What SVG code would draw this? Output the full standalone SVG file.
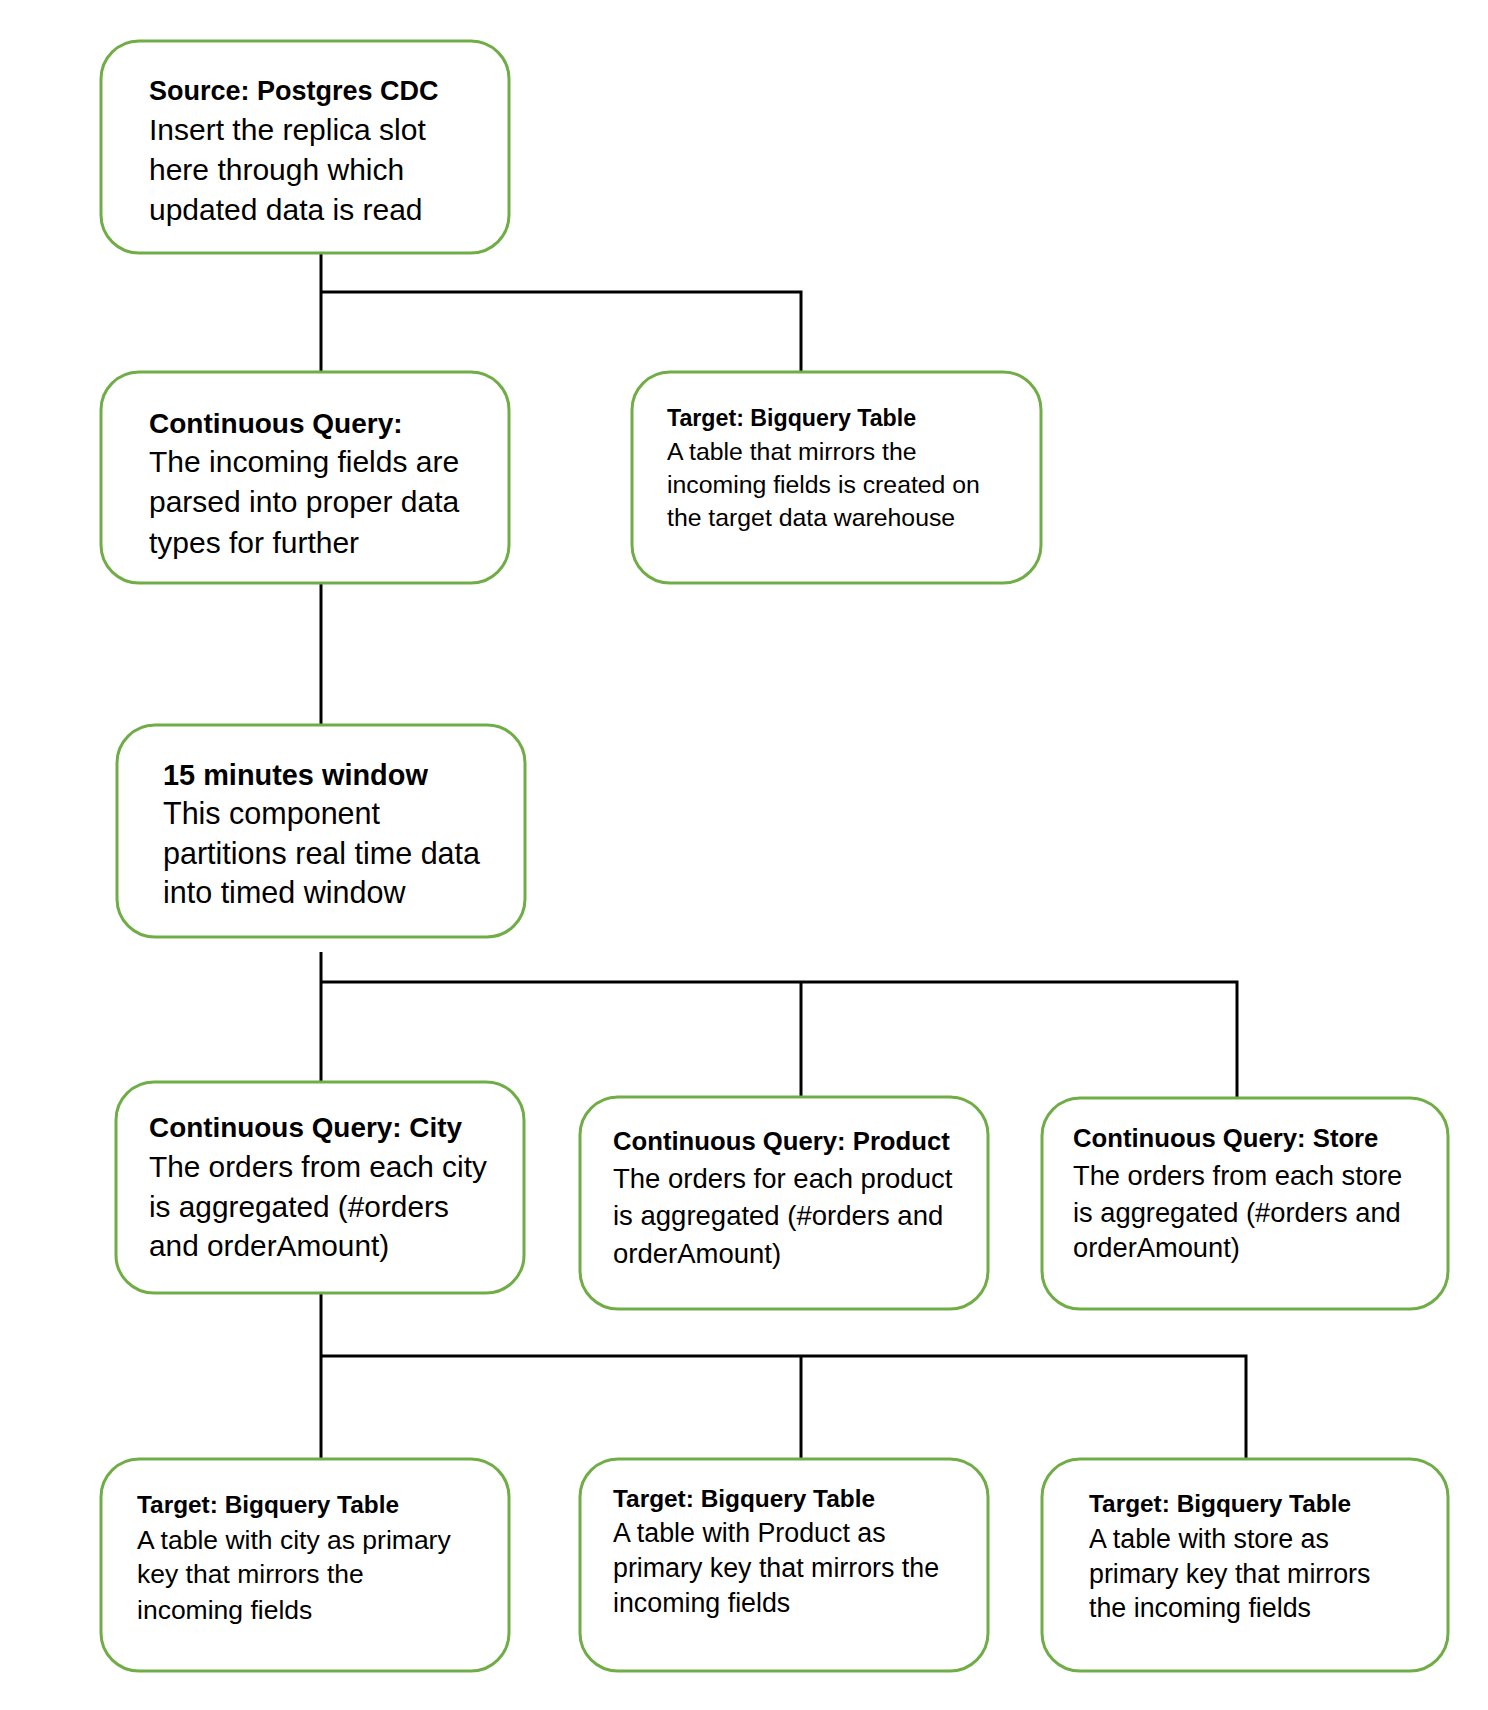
<svg xmlns="http://www.w3.org/2000/svg" width="1488" height="1710" viewBox="0 0 1488 1710">
<style>
  .box { fill: #ffffff; stroke: #70AD47; stroke-width: 3; }
  .conn { fill: none; stroke: #000000; stroke-width: 3; }
  text { font-family: "Liberation Sans", Arial, sans-serif; fill: #000000; }
  .b { font-weight: bold; }
</style>
<rect width="1488" height="1710" fill="#ffffff"/>
<g id="connectors">
  <path class="conn" d="M321 253 V372 M321 292 H801 V372"/>
  <path class="conn" d="M321 583 V725"/>
  <path class="conn" d="M321 952 V1082 M321 982 H1237 V1098 M801 982 V1097"/>
  <path class="conn" d="M321 1293 V1459 M321 1356 H1246 V1459 M801 1356 V1459"/>
</g>
<g id="source">
  <rect class="box" x="101" y="41" width="408" height="212" rx="38"/>
  <text class="b" x="149" y="100" font-size="27">Source: Postgres CDC</text>
  <text x="149" y="140" font-size="30">Insert the replica slot</text>
  <text x="149" y="180" font-size="30">here through which</text>
  <text x="149" y="220" font-size="30">updated data is read</text>
</g>
<g id="cq-parse">
  <rect class="box" x="101" y="372" width="408" height="211" rx="38"/>
  <text class="b" x="149" y="433" font-size="28">Continuous Query:</text>
  <text x="149" y="472" font-size="30">The incoming fields are</text>
  <text x="149" y="512" font-size="30">parsed into proper data</text>
  <text x="149" y="553" font-size="30">types for further</text>
</g>
<g id="target-top">
  <rect class="box" x="632" y="372" width="409" height="211" rx="38"/>
  <text class="b" x="667" y="426" font-size="23.2">Target: Bigquery Table</text>
  <text x="667" y="460" font-size="24.8">A table that mirrors the</text>
  <text x="667" y="493" font-size="24.8">incoming fields is created on</text>
  <text x="667" y="526" font-size="24.8">the target data warehouse</text>
</g>
<g id="window">
  <rect class="box" x="117" y="725" width="408" height="212" rx="38"/>
  <text class="b" x="163" y="785" font-size="28.9">15 minutes window</text>
  <text x="163" y="824" font-size="30.5">This component</text>
  <text x="163" y="864" font-size="30.5">partitions real time data</text>
  <text x="163" y="903" font-size="30.5">into timed window</text>
</g>
<g id="cq-city">
  <rect class="box" x="116" y="1082" width="408" height="211" rx="38"/>
  <text class="b" x="149" y="1137" font-size="27.9">Continuous Query: City</text>
  <text x="149" y="1177" font-size="29.8">The orders from each city</text>
  <text x="149" y="1217" font-size="29.8">is aggregated (#orders</text>
  <text x="149" y="1256" font-size="29.8">and orderAmount)</text>
</g>
<g id="cq-product">
  <rect class="box" x="580" y="1097" width="408" height="212" rx="38"/>
  <text class="b" x="613" y="1150" font-size="25.7">Continuous Query: Product</text>
  <text x="613" y="1188" font-size="27.5">The orders for each product</text>
  <text x="613" y="1225" font-size="27.5">is aggregated (#orders and</text>
  <text x="613" y="1263" font-size="27.5">orderAmount)</text>
</g>
<g id="cq-store">
  <rect class="box" x="1042" y="1098" width="406" height="211" rx="38"/>
  <text class="b" x="1073" y="1147" font-size="25.7">Continuous Query: Store</text>
  <text x="1073" y="1185" font-size="27.3">The orders from each store</text>
  <text x="1073" y="1222" font-size="27.3">is aggregated (#orders and</text>
  <text x="1073" y="1257" font-size="27.3">orderAmount)</text>
</g>
<g id="target-city">
  <rect class="box" x="101" y="1459" width="408" height="212" rx="38"/>
  <text class="b" x="137" y="1513" font-size="24.4">Target: Bigquery Table</text>
  <text x="137" y="1549" font-size="26.5">A table with city as primary</text>
  <text x="137" y="1583" font-size="26.5">key that mirrors the</text>
  <text x="137" y="1619" font-size="26.5">incoming fields</text>
</g>
<g id="target-product">
  <rect class="box" x="580" y="1459" width="408" height="212" rx="38"/>
  <text class="b" x="613" y="1507" font-size="24.4">Target: Bigquery Table</text>
  <text x="613" y="1542" font-size="26.8">A table with Product as</text>
  <text x="613" y="1577" font-size="26.8">primary key that mirrors the</text>
  <text x="613" y="1612" font-size="26.8">incoming fields</text>
</g>
<g id="target-store">
  <rect class="box" x="1042" y="1459" width="406" height="212" rx="38"/>
  <text class="b" x="1089" y="1512" font-size="24.4">Target: Bigquery Table</text>
  <text x="1089" y="1548" font-size="26.8">A table with store as</text>
  <text x="1089" y="1583" font-size="26.8">primary key that mirrors</text>
  <text x="1089" y="1617" font-size="26.8">the incoming fields</text>
</g>
</svg>
